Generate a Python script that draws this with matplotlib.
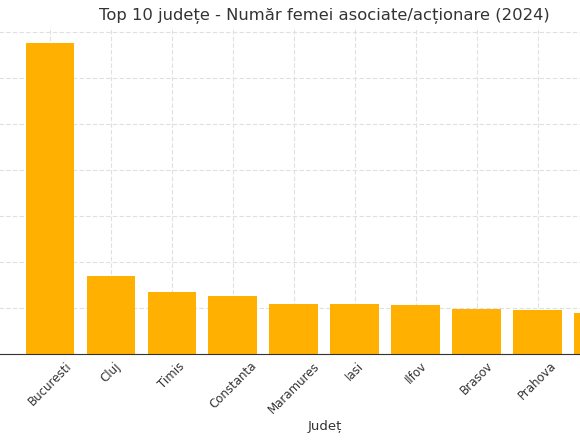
import numpy as np
import matplotlib.pyplot as plt

# date
judete = ["Bucuresti", "Cluj", "Timis", "Constanta", "Maramures",
          "Iasi", "Ilfov", "Brasov", "Prahova", "Bihor"]
femei = [135600, 34000, 27200, 25400, 21800, 21700, 21500, 19400, 19200, 17800]

fig = plt.figure(figsize=(5.8, 4.4), dpi=100)
# axa este mai lata decat imaginea (graficul original era decupat)
ax = fig.add_axes([-4.3/580, 1-354/440, 657.3/580, 327/440])

x = np.arange(len(judete))
ax.bar(x, femei, width=0.8, color="#FFB000", zorder=2)

ax.set_xticks(x)
ax.set_xticklabels(judete, rotation=45, fontsize=8.5, color="#333333")
ax.set_yticks(np.arange(0, 140001, 20000))
ax.tick_params(axis="x", direction="in", length=3, color="#444444", pad=4)
ax.tick_params(axis="y", length=0, labelleft=False)

ax.grid(True, color="#e0e0e0", linestyle=(0, (4, 2)), linewidth=0.8, zorder=0)
for s in ["top", "right", "left"]:
    ax.spines[s].set_visible(False)
ax.spines["bottom"].set_color("#333333")

ax.set_title("Top 10 județe - Număr femei asociate/acționare (2024)",
             fontsize=11.8, color="#333333", pad=5)
ax.set_xlabel("Județ", fontsize=9.5, color="#333333", labelpad=3)

fig.savefig("out.png", dpi=100)
